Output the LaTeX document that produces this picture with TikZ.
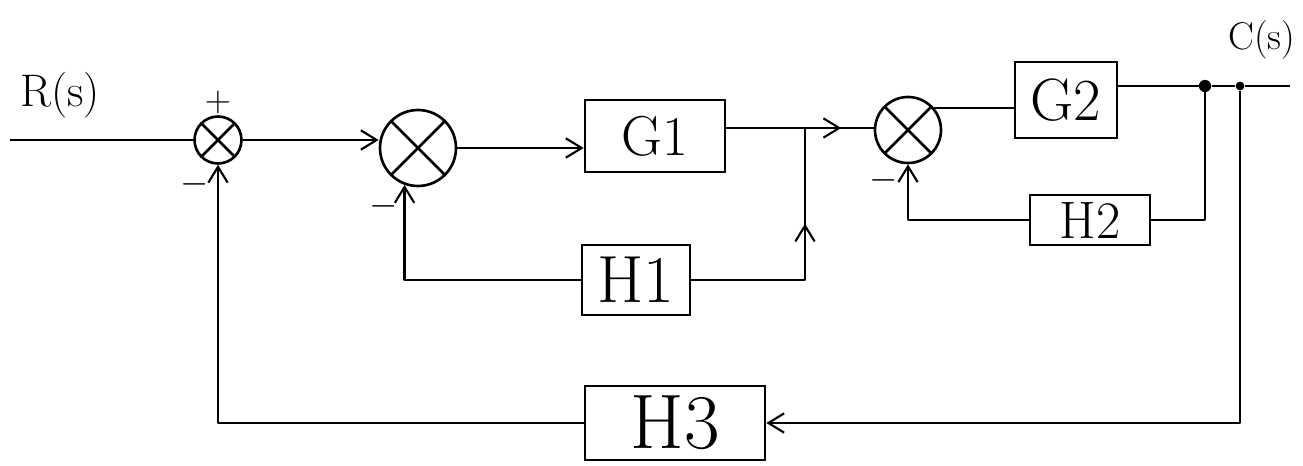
\documentclass[tikz,border=0pt]{standalone}
\usetikzlibrary{arrows.meta,decorations.markings}
\tikzset{
  wire/.style={line width=1.5pt, line join=round},
  arr/.style={-{Straight Barb[length=9pt,width=11pt,line width=1.2pt]}},
  blk/.style={draw, line width=1.5pt, rectangle, inner sep=0pt},
  sumj/.style={draw, line width=1.5pt, circle, inner sep=0pt,
    path picture={\draw[line width=1.5pt] (path picture bounding box.north west) -- (path picture bounding box.south east)
      (path picture bounding box.north east) -- (path picture bounding box.south west);}},
  midarrow/.style={postaction={decorate}, decoration={markings,
    mark=at position #1 with {\arrow{Straight Barb[length=9pt,width=11pt,line width=1.2pt]}}}},
  lbl/.style={inner sep=0pt},
  dotp/.style={circle, fill, inner sep=0pt, minimum size=7pt}
}
\begin{document}
\begin{tikzpicture}[x=0.02cm, y=-0.02cm]
\useasboundingbox (0,0) rectangle (1303,466);
% nodes
\coordinate (in) at (10,140);
\node[lbl, font=\fontsize{26}{30}\selectfont] (R) at (60,95) {R(s)};
\node[sumj, minimum size=0.94cm] (s1) at (218,140) {};
\node[sumj, minimum size=1.52cm] (s2) at (418,148) {};
\node[blk, minimum width=2.8cm, minimum height=1.44cm, font=\fontsize{32}{36}\selectfont] (G1) at (655,136) {G1};
\coordinate (b1) at (805,128);
\node[sumj, minimum size=1.32cm] (s3) at (908,130) {};
\node[blk, minimum width=2.04cm, minimum height=1.52cm, font=\fontsize{34}{38}\selectfont] (G2) at (1066,100) {G2};
\node[dotp] (b2) at (1205,86) {};
\node[dotp, minimum size=5pt] (b3) at (1240,86) {};
\coordinate (out) at (1290,86);
\node[lbl, font=\fontsize{22}{26}\selectfont] (C) at (1262,40) {C(s)};
\node[blk, minimum width=2.4cm, minimum height=1.0cm, font=\fontsize{30}{34}\selectfont] (H2) at (1090,220) {H2};
\node[blk, minimum width=2.16cm, minimum height=1.4cm, font=\fontsize{38}{42}\selectfont] (H1) at (636,280) {H1};
\node[blk, minimum width=3.6cm, minimum height=1.48cm, font=\fontsize{44}{48}\selectfont] (H3) at (675,423) {H3};
% signs
\node[lbl, font=\fontsize{20}{22}\selectfont] (p1) at (218,102) {$+$};
\node[lbl, font=\fontsize{20}{22}\selectfont] (m1) at (195,184) {$-$};
\node[lbl, font=\fontsize{20}{22}\selectfont] (m2) at (384,206) {$-$};
\node[lbl, font=\fontsize{20}{22}\selectfont] (m3) at (884,180) {$-$};
% forward path
\draw[wire] (in) -- (in -| s1.west);
\draw[wire, arr] (s1.east) -- (s1.east -| s2.west);
\draw[wire, arr] (s2.east) -- (s2.east -| G1.west);
\draw[wire, midarrow=0.78] (b1 -| G1.east) -- (b1) -- (b1 -| s3.west);
\draw[wire] (s3.40) -- (s3.40 -| G2.west);
\draw[wire] (b2 -| G2.east) -- (b2) -- (b3) -- (out);
% inner loop H1
\draw[wire, midarrow=0.64] (H1.east) -| (b1);
\draw[wire, arr] (H1.west) -| (s2.250);
% loop H2
\draw[wire] (b2) |- (H2.east);
\draw[wire, arr] (H2.west) -| (s3.south);
% outer loop H3
\draw[wire, arr] (b3) |- (H3.east);
\draw[wire, arr] (H3.west) -| (s1.south);
\end{tikzpicture}
\end{document}
